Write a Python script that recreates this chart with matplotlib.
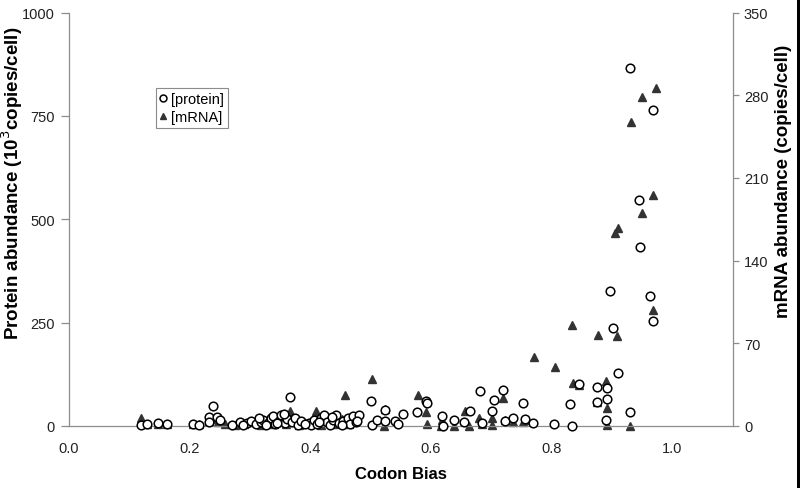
import numpy as np
import matplotlib.pyplot as plt
from matplotlib.patches import Rectangle

plt.rcParams['font.family'] = ['Liberation Sans', 'DejaVu Sans']

# codon bias and protein abundance (10^3 copies/cell)
prot_bias = [0.119, 0.130, 0.148, 0.163, 0.206, 0.215, 0.232, 0.239, 0.232, 0.246,
             0.251, 0.270, 0.283, 0.295, 0.302, 0.310, 0.318, 0.322, 0.330, 0.335,
             0.338, 0.342, 0.348, 0.352, 0.358, 0.362, 0.366, 0.370, 0.375, 0.380,
             0.384, 0.398, 0.402, 0.406, 0.412, 0.418, 0.422, 0.428, 0.432, 0.438,
             0.443, 0.448, 0.455, 0.462, 0.466, 0.470, 0.475, 0.480, 0.501, 0.502,
             0.510, 0.523, 0.524, 0.540, 0.546, 0.553, 0.577, 0.591, 0.594, 0.618,
             0.620, 0.638, 0.655, 0.665, 0.681, 0.684, 0.701, 0.704, 0.719, 0.723,
             0.736, 0.752, 0.756, 0.769, 0.804, 0.831, 0.834, 0.845, 0.875, 0.875,
             0.892, 0.892, 0.890, 0.897, 0.902, 0.909, 0.929, 0.930, 0.945, 0.947,
             0.963, 0.967, 0.968, 0.288, 0.315, 0.327, 0.345, 0.356, 0.391, 0.415,
             0.436, 0.452, 0.478]
protein = [2, 5, 6, 4, 5, 2, 21, 47, 10, 21,
           15, 1, 10, 8, 12, 5, 10, 14, 8, 18,
           24, 4, 12, 26, 6, 16, 71, 9, 20, 3,
           12, 8, 2, 14, 5, 20, 27, 10, 3, 15,
           27, 6, 12, 18, 4, 24, 9, 27, 61, 1,
           14, 39, 12, 13, 5, 28, 33, 60, 55, 23,
           0, 15, 10, 37, 85, 6, 37, 63, 88, 13,
           19, 55, 17, 6, 5, 52, 0, 101, 94, 57,
           92, 65, 14, 327, 237, 128, 34, 867, 547, 433,
           315, 254, 765, 3, 18, 2, 7, 29, 5, 9,
           22, 1, 13]

# codon bias and mRNA abundance (copies/cell)
mrna_bias = [0.119, 0.130, 0.148, 0.163, 0.206, 0.215, 0.232, 0.240, 0.247, 0.258,
             0.275, 0.290, 0.305, 0.318, 0.330, 0.340, 0.352, 0.360, 0.367, 0.372,
             0.382, 0.400, 0.410, 0.418, 0.428, 0.440, 0.452, 0.457, 0.465, 0.475,
             0.502, 0.523, 0.522, 0.545, 0.578, 0.591, 0.594, 0.618, 0.617, 0.638,
             0.656, 0.663, 0.680, 0.684, 0.701, 0.701, 0.719, 0.723, 0.736, 0.752,
             0.756, 0.770, 0.806, 0.833, 0.835, 0.845, 0.876, 0.875, 0.890, 0.892,
             0.892, 0.908, 0.905, 0.910, 0.929, 0.932, 0.949, 0.950, 0.967, 0.967,
             0.972]
mrna = [6.5, 2, 2, 1.5, 2, 1.5, 4, 6, 3.6, 2,
        1, 2, 3, 1, 4, 2, 5, 2, 13, 4,
        1, 3, 13, 1, 4, 2, 6, 26.5, 2, 5,
        39.8, 14, 0, 3, 26.5, 11.6, 2, 5, 0, 0,
        13, 0, 7, 2, 7, 1, 24, 5, 3, 3,
        5, 58.7, 49.7, 85.6, 36, 35, 77, 20, 38, 15,
        1, 76, 163, 168, 0, 257, 279, 180, 196, 98,
        286]

x_ticks = [0.0, 0.2, 0.4, 0.6, 0.8, 1.0]
prot_ticks = [0, 250, 500, 750, 1000]
mrna_ticks = [0, 70, 140, 210, 280, 350]

axis_grey = '#8c8c8c'

fig = plt.figure(figsize=(8, 4.89), dpi=100)
ax = fig.add_axes([0.086, 0.127, 0.830, 0.845])
ax2 = ax.twinx()

ax.plot(prot_bias, protein, 'o', mfc='white', mec='black', mew=1.1, ms=6.2,
        clip_on=False, zorder=3, label='[protein]')
ax2.plot(mrna_bias, mrna, '^', mfc='#333333', mec='#333333', ms=5.5,
         clip_on=False, zorder=4, label='[mRNA]')

ax.set_zorder(ax2.get_zorder() + 1)
ax.patch.set_visible(False)

ax.set_xlim(0, 1.1)
ax.set_ylim(0, 1000)
ax2.set_ylim(0, 350)
ax.set_xticks(x_ticks)
ax.set_xticklabels(['%.1f' % t for t in x_ticks])
ax.set_yticks(prot_ticks)
ax2.set_yticks(mrna_ticks)

for a in (ax, ax2):
    a.spines['top'].set_visible(False)
    for s in a.spines.values():
        s.set_color(axis_grey)
        s.set_linewidth(0.9)
ax.spines['right'].set_visible(False)
ax2.spines['left'].set_visible(False)
ax2.spines['bottom'].set_visible(False)

ax.tick_params(axis='x', length=0, pad=11, labelsize=10.5, colors='#222222')
ax.tick_params(axis='y', length=6, width=0.9, color=axis_grey, pad=4,
               labelsize=10.5, labelcolor='#222222')
ax2.tick_params(axis='y', length=4, width=0.9, color=axis_grey, pad=4,
                labelsize=10.5, labelcolor='#222222')

ax.set_xlabel('Codon Bias', fontsize=12, fontweight='bold', labelpad=8)
ax.set_ylabel('Protein abundance (10$^3$copies/cell)', fontsize=13.5,
              fontweight='bold')
ax.yaxis.set_label_coords(-0.066, 0.59)
ax2.set_ylabel('mRNA abundance (copies/cell)', fontsize=13.5,
               fontweight='bold')
ax2.yaxis.set_label_coords(1.064, 0.595)

h1, l1 = ax.get_legend_handles_labels()
h2, l2 = ax2.get_legend_handles_labels()
leg = ax.legend(h1 + h2, l1 + l2, loc='upper left', bbox_to_anchor=(0.131, 0.818),
                borderaxespad=0, frameon=True, fancybox=False, framealpha=1,
                edgecolor=axis_grey, fontsize=10.5, handlelength=0.4,
                handletextpad=0.35, borderpad=0.3, labelspacing=0.25,
                markerscale=0.8)
leg.get_frame().set_linewidth(0.8)

# dark strip along the right edge of the scan
fig.add_artist(Rectangle((0.996, 0), 0.004, 1, transform=fig.transFigure,
                         color='black', lw=0))

fig.savefig('out.png', dpi=100)
